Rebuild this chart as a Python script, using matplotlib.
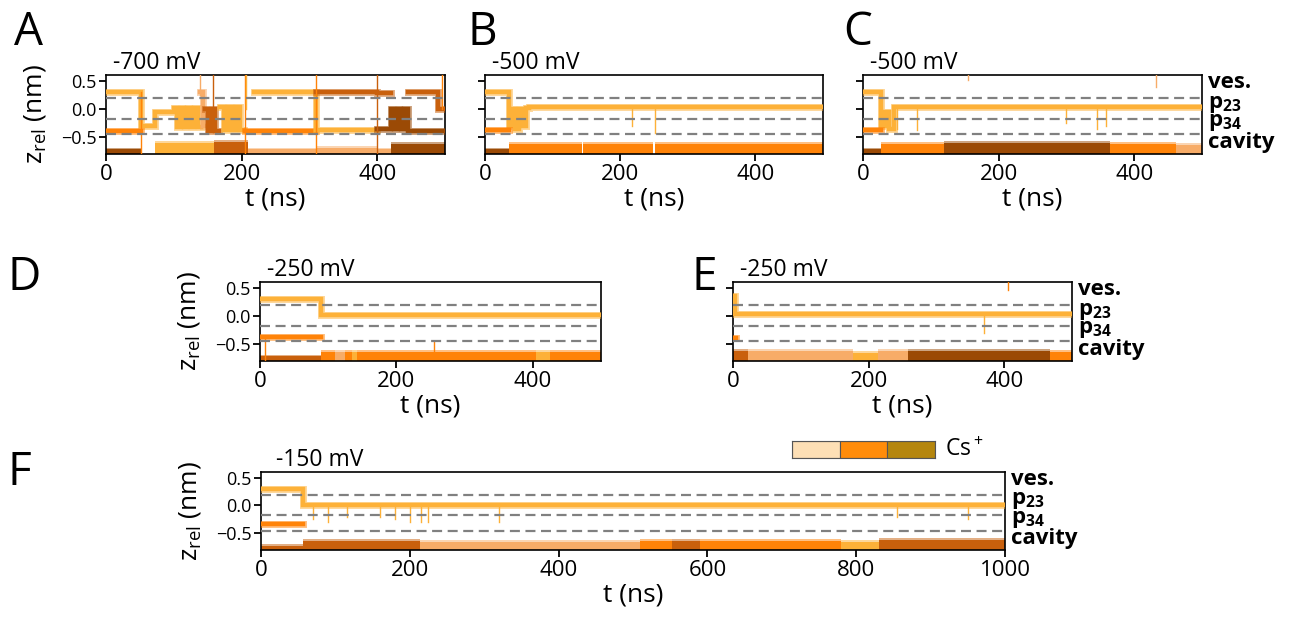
import numpy as np
import matplotlib
matplotlib.use("Agg")
import matplotlib.pyplot as plt

plt.rcParams['font.family'] = ['Open Sans', 'DejaVu Sans']
plt.rcParams['mathtext.fontset'] = 'custom'
plt.rcParams['mathtext.rm'] = 'Open Sans'
plt.rcParams['mathtext.it'] = 'Open Sans:italic'
plt.rcParams['mathtext.bf'] = 'Open Sans:bold'

# ion colours (one colour per Cs+ ion)
ion_colors = {'Y': '#FDB138', 'O': '#FF8308', 'D': '#C9600C',
              'B': '#9B4A05', 'P': '#F7AC68'}

# binding-site boundaries (nm) and site labels
site_bounds = [0.19, -0.18, -0.45]
site_labels = ['ves.', r'$\mathbf{p_{23}}$', r'$\mathbf{p_{34}}$', 'cavity']
site_label_z = [0.47, 0.08, -0.25, -0.59]

# voltage per panel
voltages = {'A': '-700 mV', 'B': '-500 mV', 'C': '-500 mV',
            'D': '-250 mV', 'E': '-250 mV', 'F': '-150 mV'}
t_max = {'A': 500, 'B': 500, 'C': 500, 'D': 500, 'E': 500, 'F': 1000}

# ion trajectories in the pore: (ion colour, edges t (ns), z levels (nm))
a_traj = [
    ('Y', [0, 51, 72, 100, 105, 110, 115, 120, 125, 130, 135, 140],
          [0.30, -0.30, -0.06, 0.02, -0.33, 0.02, -0.33, 0.02, -0.33, 0.02, -0.33]),
    ('O', [0, 51], [-0.40]),
    ('P', [139, 143, 147], [0.30, -0.30]),
    ('D', [146, 151, 156, 161, 166], [0.0, -0.40, 0.0, -0.40]),
    ('Y', [168, 174, 180, 186, 192, 198, 204], [0.03, -0.38, 0.03, -0.38, 0.03, -0.38]),
    ('O', [205, 310], [-0.40]),
    ('Y', [218, 310, 400], [0.30, -0.38]),
    ('D', [310, 400, 420], [0.30, 0.28]),
    ('B', [400, 420, 425, 430, 435, 440, 445, 500], [-0.35, 0.0, -0.35, 0.0, -0.35, 0.0, -0.40]),
    ('D', [445, 490, 500], [0.30, 0.0]),
]
b_traj = [
    ('Y', [0, 36, 40, 45, 50, 55, 60, 65, 500], [0.30, -0.30, 0.0, -0.35, 0.0, -0.30, 0.02, 0.04]),
    ('O', [0, 36], [-0.38]),
]
c_traj = [
    ('Y', [0, 26, 33, 38, 45, 500], [0.30, -0.30, -0.05, -0.35, 0.04]),
    ('O', [0, 26], [-0.38]),
]
d_traj = [
    ('Y', [0, 90, 500], [0.30, 0.02]),
    ('O', [0, 90], [-0.38]),
]
e_traj = [
    ('Y', [0, 3, 500], [0.35, 0.03]),
    ('O', [0, 4], [-0.40]),
]
f_traj = [
    ('Y', [0, 57, 1000], [0.30, 0.0]),
    ('O', [0, 57], [-0.33]),
]

# ions occupying the cavity: (ion colour, t start, t end, upper z)
a_cav = [('B', 0, 51, -0.72), ('Y', 72, 160, -0.60), ('D', 160, 210, -0.58),
         ('P', 210, 310, -0.72), ('P', 310, 400, -0.70), ('P', 400, 420, -0.72),
         ('B', 420, 500, -0.62)]
b_cav = [('B', 0, 36, -0.72), ('O', 36, 143, -0.62), ('O', 145, 249, -0.62),
         ('O', 252, 500, -0.62)]
c_cav = [('B', 0, 26, -0.72), ('O', 26, 119, -0.62), ('B', 119, 365, -0.60),
         ('O', 365, 461, -0.62), ('P', 461, 500, -0.64)]
d_cav = [('D', 0, 90, -0.72), ('O', 90, 110, -0.64), ('P', 110, 125, -0.64),
         ('O', 125, 135, -0.64), ('Y', 135, 142, -0.64), ('O', 142, 405, -0.64),
         ('Y', 405, 425, -0.64), ('O', 425, 500, -0.64)]
e_cav = [('D', 0, 22, -0.62), ('P', 22, 177, -0.63), ('Y', 177, 214, -0.65),
         ('P', 214, 258, -0.63), ('B', 258, 467, -0.62), ('O', 467, 500, -0.64)]
f_cav = [('D', 0, 57, -0.72), ('D', 57, 214, -0.63), ('P', 214, 510, -0.65),
         ('O', 510, 552, -0.64), ('D', 552, 590, -0.63), ('O', 590, 779, -0.64),
         ('Y', 779, 831, -0.66), ('D', 831, 1000, -0.62)]

# short excursions: (ion colour, t, z from, z to)
a_spk = [('O', 51, 0.30, -0.80), ('O', 205, 0.60, -0.80), ('O', 310, 0.60, -0.80),
         ('D', 400, 0.60, -0.80), ('P', 139, 0.60, 0.25), ('D', 158, 0.60, -0.40),
         ('Y', 207, 0.60, 0.0), ('O', 495, 0.60, 0.0)]
b_spk = [('Y', 217, 0.02, -0.30), ('Y', 251, 0.02, -0.42)]
c_spk = [('Y', 50, 0.04, -0.35), ('Y', 80, 0.04, -0.38), ('Y', 300, 0.04, -0.25),
         ('Y', 345, 0.04, -0.35), ('Y', 358, 0.04, -0.30), ('P', 155, 0.60, 0.52),
         ('P', 432, 0.60, 0.38)]
d_spk = [('O', 255, -0.64, -0.45), ('O', 8, -0.38, -0.80)]
e_spk = [('O', 405, 0.60, 0.45), ('Y', 370, 0.03, -0.30)]
f_spk = [('Y', 70, 0.0, -0.25), ('Y', 90, 0.0, -0.30), ('Y', 115, 0.0, -0.20),
         ('Y', 160, 0.0, -0.20), ('Y', 180, 0.0, -0.25), ('Y', 200, 0.0, -0.30),
         ('Y', 215, 0.0, -0.30), ('Y', 225, 0.0, -0.30), ('Y', 320, 0.0, -0.30),
         ('Y', 855, 0.0, -0.20), ('Y', 950, 0.0, -0.25)]

# colour bar of the ion colours
cs_bar_colors = ['#FDDFB5', '#FF8C0A', '#B5860D']

W, H = 1293, 618
fig = plt.figure(figsize=(W / 100, H / 100), dpi=100)


def box(l, r, t, b):
    return [l / W, 1 - b / H, (r - l) / W, (b - t) / H]


axes_px = {'A': (106, 445, 75, 154), 'B': (485, 823, 75, 154), 'C': (863, 1202, 75, 154),
           'D': (260, 601, 282, 361), 'E': (733, 1072, 282, 361), 'F': (261, 1005, 472, 550)}
letter_px = {'A': (14, 10), 'B': (468, 10), 'C': (843, 10),
             'D': (8, 255), 'E': (691, 255), 'F': (8, 450)}
panel_data = {'A': (a_traj, a_cav, a_spk), 'B': (b_traj, b_cav, b_spk),
              'C': (c_traj, c_cav, c_spk), 'D': (d_traj, d_cav, d_spk),
              'E': (e_traj, e_cav, e_spk), 'F': (f_traj, f_cav, f_spk)}
ylim = (-0.8, 0.6)

for name, (l, r, t, b) in axes_px.items():
    ax = fig.add_axes(box(l, r, t, b))
    traj, cav, spk = panel_data[name]

    for c, t0, t1, top in cav:
        ax.fill_between([t0, t1], ylim[0], top, color=ion_colors[c], lw=0, zorder=2)
        ax.fill_between([t0, t1], top, top + 0.035, color=ion_colors[c], lw=0,
                        alpha=0.5, zorder=2)

    for c, edges, levels in traj:
        xs, ys = [], []
        for i, z in enumerate(levels):
            xs += [edges[i], edges[i + 1]]
            ys += [z, z]
        # soft edge for the thermal noise, then the core of the trace
        ax.plot(xs, ys, color=ion_colors[c], lw=5.0, alpha=0.5,
                solid_joinstyle='miter', zorder=3)
        ax.plot(xs, ys, color=ion_colors[c], lw=3.2, solid_joinstyle='miter',
                zorder=3)

    for c, ts, z0, z1 in spk:
        ax.plot([ts, ts], [z0, z1], color=ion_colors[c], lw=1.0, zorder=3)

    for zb in site_bounds:
        ax.axhline(zb, color='#808080', lw=1.6, ls=(0, (4.5, 2.5)), zorder=4)

    ax.set_xlim(0, t_max[name])
    ax.set_ylim(*ylim)
    ax.set_yticks([0.5, 0.0, -0.5])
    if name in ('A', 'D', 'F'):
        ax.set_yticklabels(['0.5', '0.0', '\u22120.5'], fontsize=13)
        ax.set_ylabel(r'z$_{\mathrm{rel}}$ (nm)', fontsize=19, labelpad=9)
    else:
        ax.set_yticklabels([])
        ax.tick_params(axis='y', length=0)
    if name == 'F':
        ax.set_xticks(range(0, 1001, 200))
    else:
        ax.set_xticks([0, 200, 400])
    ax.tick_params(axis='x', labelsize=16, length=5, width=1.3, pad=2)
    ax.tick_params(axis='y', length=5, width=1.3, pad=2)
    ax.set_xlabel('t (ns)', fontsize=19, labelpad=1)
    for s in ax.spines.values():
        s.set_linewidth(1.2)

    ax.text(0.02, 1.0, voltages[name], transform=ax.transAxes, fontsize=16.5,
            ha='left', va='bottom')

    if name in ('C', 'E', 'F'):
        for lab, zl in zip(site_labels, site_label_z):
            ax.text(1.0 + 6 / (r - l), zl, lab, transform=ax.get_yaxis_transform(),
                    fontsize=16, fontweight='bold', ha='left', va='center',
                    clip_on=False)

    lx, ly = letter_px[name]
    fig.text(lx / W, 1 - ly / H, name, fontsize=33, ha='left', va='top')

# Cs+ colour bar
cax = fig.add_axes(box(792, 935, 441, 458))
cax.barh([0] * len(cs_bar_colors), [1] * len(cs_bar_colors),
         left=list(range(len(cs_bar_colors))), color=cs_bar_colors,
         edgecolor='#555555', linewidth=0.8, height=1.0)
cax.set_xlim(0, len(cs_bar_colors))
cax.set_ylim(-0.5, 0.5)
cax.set_xticks([])
cax.set_yticks([])
for s in cax.spines.values():
    s.set_linewidth(0.8)
    s.set_color('#555555')
fig.text(945 / W, 1 - 450 / H, r'Cs$^+$', fontsize=16.5, ha='left', va='center')

fig.savefig('out.png', dpi=100)
